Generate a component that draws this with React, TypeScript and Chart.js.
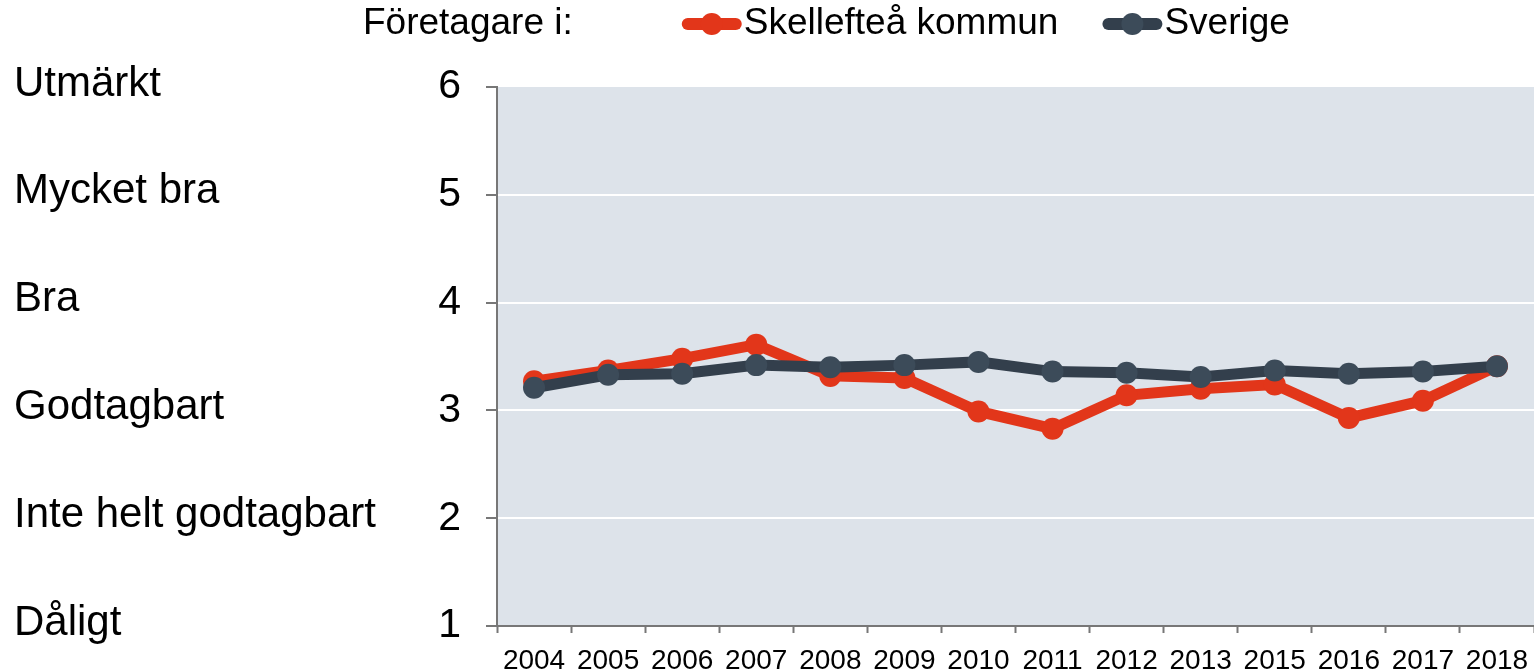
import React, { useEffect, useRef } from "react";
import { Chart, registerables } from "chart.js";

Chart.register(...registerables);

const years = ["2004", "2005", "2006", "2007", "2008", "2009", "2010", "2011", "2012", "2013", "2015", "2016", "2017", "2018"];
const skelleftea = [3.27, 3.37, 3.48, 3.61, 3.32, 3.3, 2.99, 2.83, 3.14, 3.2, 3.24, 2.93, 3.09, 3.41];
const sverige = [3.21, 3.33, 3.34, 3.42, 3.4, 3.42, 3.45, 3.36, 3.35, 3.31, 3.37, 3.34, 3.36, 3.41];
const scaleLabels = ["Dåligt", "Inte helt godtagbart", "Godtagbart", "Bra", "Mycket bra", "Utmärkt"];
const legendTitle = "Företagare i:";
const seriesNames = ["Skellefteå kommun", "Sverige"];

const FONT = "'Liberation Sans', Arial, sans-serif";
const RED = "#e2361a";
const DARK = "#333f4c";
const DARK_PT = "#3c4b59";

const bgPlugin = {
  id: "plotBg",
  beforeDraw(chart: any) {
    const { ctx, chartArea } = chart;
    ctx.save();
    ctx.fillStyle = "#dde3ea";
    ctx.fillRect(chartArea.left, chartArea.top, chartArea.right - chartArea.left, chartArea.bottom - chartArea.top);
    ctx.restore();
  },
};

const sideLabelsPlugin = {
  id: "sideLabels",
  afterDraw(chart: any) {
    const { ctx } = chart;
    const y = chart.scales.y;
    ctx.save();
    ctx.font = `42px ${FONT}`;
    ctx.fillStyle = "#000";
    ctx.textAlign = "left";
    ctx.textBaseline = "middle";
    scaleLabels.forEach((lab, i) => {
      ctx.fillText(lab, 14, y.getPixelForValue(i + 1) - 3);
    });
    ctx.restore();
  },
};

const legendPlugin = {
  id: "customLegend",
  afterDraw(chart: any) {
    const { ctx } = chart;
    const cy = 24;
    ctx.save();
    ctx.font = `37px ${FONT}`;
    ctx.fillStyle = "#000";
    ctx.textAlign = "left";
    ctx.textBaseline = "middle";
    let x = 363;
    ctx.fillText(legendTitle, x, cy);
    x += ctx.measureText(legendTitle).width + 110;
    chart.data.datasets.forEach((ds: any) => {
      ctx.strokeStyle = ds.borderColor;
      ctx.lineWidth = 12;
      ctx.lineCap = "round";
      ctx.beginPath();
      ctx.moveTo(x + 5, cy);
      ctx.lineTo(x + 53, cy);
      ctx.stroke();
      ctx.fillStyle = ds.pointBackgroundColor;
      ctx.beginPath();
      ctx.arc(x + 29, cy, 11, 0, Math.PI * 2);
      ctx.fill();
      ctx.fillStyle = "#000";
      ctx.fillText(ds.label, x + 61, cy);
      x += 61 + ctx.measureText(ds.label).width + 45;
    });
    ctx.restore();
  },
};

export default function App() {
  const ref = useRef<HTMLCanvasElement>(null);
  useEffect(() => {
    if (!ref.current) return;
    Chart.defaults.font.family = FONT;
    const chart = new Chart(ref.current, {
      type: "line",
      data: {
        labels: years,
        datasets: [
          {
            label: seriesNames[0],
            data: skelleftea,
            borderColor: RED,
            backgroundColor: RED,
            pointBackgroundColor: RED,
            pointBorderColor: RED,
            borderWidth: 11,
            pointRadius: 11,
            pointBorderWidth: 0,
            tension: 0,
            order: 1,
          },
          {
            label: seriesNames[1],
            data: sverige,
            borderColor: DARK,
            backgroundColor: DARK_PT,
            pointBackgroundColor: DARK_PT,
            pointBorderColor: DARK_PT,
            borderWidth: 11,
            pointRadius: 11,
            pointBorderWidth: 0,
            tension: 0,
            order: 0,
          },
        ],
      },
      options: {
        responsive: false,
        animation: false,
        events: [],
        layout: { autoPadding: false, padding: { top: 87, left: 0, right: 0, bottom: 0 } },
        plugins: { legend: { display: false }, tooltip: { enabled: false } },
        scales: {
          x: {
            offset: true,
            grid: {
              offset: true,
              drawOnChartArea: false,
              drawTicks: true,
              tickLength: 7,
              tickColor: "#777",
              tickWidth: 2,
            },
            border: { color: "#777", width: 2 },
            ticks: {
              font: { size: 28, family: FONT },
              color: "#000",
              padding: 11,
              maxRotation: 0,
              autoSkip: false,
            },
            afterFit: (s: any) => {
              s.height = 45;
              s.paddingLeft = 0;
              s.paddingRight = 0;
            },
          },
          y: {
            min: 1,
            max: 6,
            ticks: { stepSize: 1, font: { size: 41, family: FONT }, color: "#000", padding: 25 },
            grid: {
              color: (c: any) => (c.tick && (c.tick.value === 1 || c.tick.value === 6) ? "rgba(0,0,0,0)" : "#ffffff"),
              lineWidth: 2,
              drawTicks: true,
              tickLength: 11,
              tickColor: "#777",
              tickWidth: 2,
            },
            border: { color: "#777", width: 2 },
            afterFit: (s: any) => {
              s.width = 497;
              s.paddingTop = 0;
              s.paddingBottom = 0;
            },
          },
        },
      },
      plugins: [bgPlugin, sideLabelsPlugin, legendPlugin],
    } as any);
    return () => chart.destroy();
  }, []);
  return (
    <div style={{ position: "absolute", left: 0, top: 0, width: 1534, height: 671, background: "#fff" }}>
      <canvas ref={ref} width={1534} height={671} style={{ display: "block" }} />
    </div>
  );
}
